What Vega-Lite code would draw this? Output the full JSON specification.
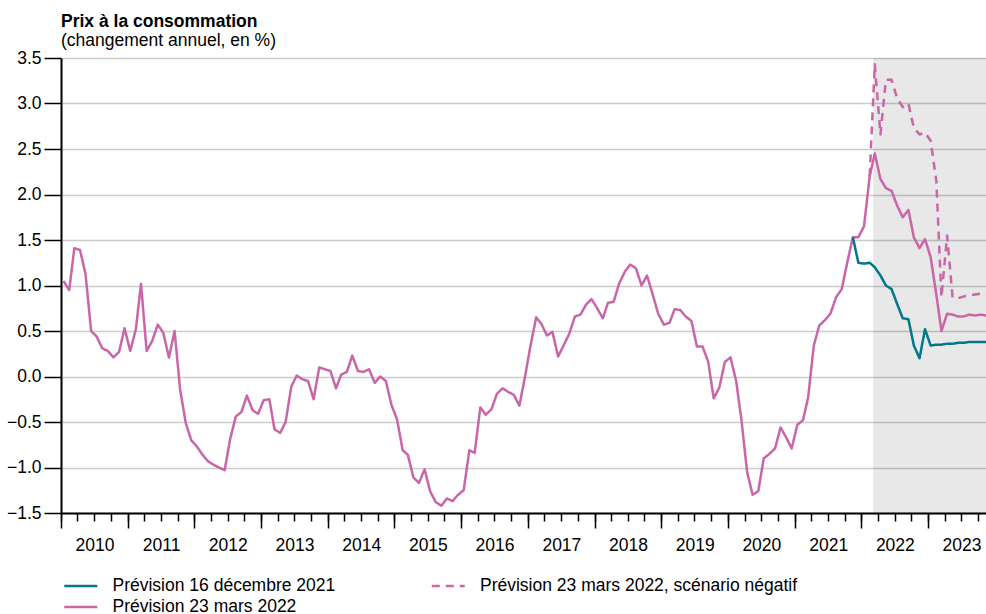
{
"$schema": "https://vega.github.io/schema/vega-lite/v6.json",
"width": 925, "height": 455,
"autosize": {"type": "none"},
"padding": {"left": 61, "top": 58, "right": 0, "bottom": 101},
"background": "white",
"config": {"font": "Liberation Sans", "view": {"stroke": null}},
"title": {"text": "Prix à la consommation", "subtitle": "(changement annuel, en %)", "anchor": "start", "frame": "group", "font": "Liberation Sans", "subtitleFont": "Liberation Sans", "fontSize": 17.5, "fontWeight": "bold", "subtitleFontSize": 17.5, "color": "#000", "subtitleColor": "#000", "subtitlePadding": 1, "offset": 0},
"datasets": {
"shade": [{"a": "2022-03-06", "b": "2023-12-31"}],
"cpi": [
{"d":"2010-01-15","s":"c","v":1.05},{"d":"2010-02-15","s":"c","v":0.95},{"d":"2010-03-15","s":"c","v":1.41},{"d":"2010-04-15","s":"c","v":1.39},{"d":"2010-05-15","s":"c","v":1.13},{"d":"2010-06-15","s":"c","v":0.50},{"d":"2010-07-15","s":"c","v":0.44},{"d":"2010-08-15","s":"c","v":0.31},{"d":"2010-09-15","s":"c","v":0.28},{"d":"2010-10-15","s":"c","v":0.21},{"d":"2010-11-15","s":"c","v":0.27},{"d":"2010-12-15","s":"c","v":0.53},
{"d":"2011-01-15","s":"c","v":0.28},{"d":"2011-02-15","s":"c","v":0.52},{"d":"2011-03-15","s":"c","v":1.02},{"d":"2011-04-15","s":"c","v":0.28},{"d":"2011-05-15","s":"c","v":0.39},{"d":"2011-06-15","s":"c","v":0.57},{"d":"2011-07-15","s":"c","v":0.48},{"d":"2011-08-15","s":"c","v":0.21},{"d":"2011-09-15","s":"c","v":0.50},{"d":"2011-10-15","s":"c","v":-0.14},{"d":"2011-11-15","s":"c","v":-0.51},{"d":"2011-12-15","s":"c","v":-0.70},
{"d":"2012-01-15","s":"c","v":-0.77},{"d":"2012-02-15","s":"c","v":-0.86},{"d":"2012-03-15","s":"c","v":-0.93},{"d":"2012-04-15","s":"c","v":-0.97},{"d":"2012-05-15","s":"c","v":-1.00},{"d":"2012-06-15","s":"c","v":-1.03},{"d":"2012-07-15","s":"c","v":-0.69},{"d":"2012-08-15","s":"c","v":-0.44},{"d":"2012-09-15","s":"c","v":-0.39},{"d":"2012-10-15","s":"c","v":-0.21},{"d":"2012-11-15","s":"c","v":-0.37},{"d":"2012-12-15","s":"c","v":-0.41},
{"d":"2013-01-15","s":"c","v":-0.26},{"d":"2013-02-15","s":"c","v":-0.25},{"d":"2013-03-15","s":"c","v":-0.58},{"d":"2013-04-15","s":"c","v":-0.62},{"d":"2013-05-15","s":"c","v":-0.50},{"d":"2013-06-15","s":"c","v":-0.11},{"d":"2013-07-15","s":"c","v":0.01},{"d":"2013-08-15","s":"c","v":-0.03},{"d":"2013-09-15","s":"c","v":-0.05},{"d":"2013-10-15","s":"c","v":-0.25},{"d":"2013-11-15","s":"c","v":0.10},{"d":"2013-12-15","s":"c","v":0.08},
{"d":"2014-01-15","s":"c","v":0.06},{"d":"2014-02-15","s":"c","v":-0.13},{"d":"2014-03-15","s":"c","v":0.02},{"d":"2014-04-15","s":"c","v":0.05},{"d":"2014-05-15","s":"c","v":0.23},{"d":"2014-06-15","s":"c","v":0.06},{"d":"2014-07-15","s":"c","v":0.05},{"d":"2014-08-15","s":"c","v":0.08},{"d":"2014-09-15","s":"c","v":-0.07},{"d":"2014-10-15","s":"c","v":0.00},{"d":"2014-11-15","s":"c","v":-0.05},{"d":"2014-12-15","s":"c","v":-0.31},
{"d":"2015-01-15","s":"c","v":-0.47},{"d":"2015-02-15","s":"c","v":-0.81},{"d":"2015-03-15","s":"c","v":-0.86},{"d":"2015-04-15","s":"c","v":-1.11},{"d":"2015-05-15","s":"c","v":-1.17},{"d":"2015-06-15","s":"c","v":-1.02},{"d":"2015-07-15","s":"c","v":-1.26},{"d":"2015-08-15","s":"c","v":-1.38},{"d":"2015-09-15","s":"c","v":-1.42},{"d":"2015-10-15","s":"c","v":-1.34},{"d":"2015-11-15","s":"c","v":-1.37},{"d":"2015-12-15","s":"c","v":-1.30},
{"d":"2016-01-15","s":"c","v":-1.25},{"d":"2016-02-15","s":"c","v":-0.81},{"d":"2016-03-15","s":"c","v":-0.84},{"d":"2016-04-15","s":"c","v":-0.34},{"d":"2016-05-15","s":"c","v":-0.42},{"d":"2016-06-15","s":"c","v":-0.36},{"d":"2016-07-15","s":"c","v":-0.19},{"d":"2016-08-15","s":"c","v":-0.13},{"d":"2016-09-15","s":"c","v":-0.17},{"d":"2016-10-15","s":"c","v":-0.20},{"d":"2016-11-15","s":"c","v":-0.32},{"d":"2016-12-15","s":"c","v":-0.01},
{"d":"2017-01-15","s":"c","v":0.34},{"d":"2017-02-15","s":"c","v":0.65},{"d":"2017-03-15","s":"c","v":0.58},{"d":"2017-04-15","s":"c","v":0.45},{"d":"2017-05-15","s":"c","v":0.49},{"d":"2017-06-15","s":"c","v":0.22},{"d":"2017-07-15","s":"c","v":0.34},{"d":"2017-08-15","s":"c","v":0.47},{"d":"2017-09-15","s":"c","v":0.66},{"d":"2017-10-15","s":"c","v":0.68},{"d":"2017-11-15","s":"c","v":0.79},{"d":"2017-12-15","s":"c","v":0.85},
{"d":"2018-01-15","s":"c","v":0.75},{"d":"2018-02-15","s":"c","v":0.64},{"d":"2018-03-15","s":"c","v":0.81},{"d":"2018-04-15","s":"c","v":0.82},{"d":"2018-05-15","s":"c","v":1.02},{"d":"2018-06-15","s":"c","v":1.15},{"d":"2018-07-15","s":"c","v":1.23},{"d":"2018-08-15","s":"c","v":1.19},{"d":"2018-09-15","s":"c","v":1.00},{"d":"2018-10-15","s":"c","v":1.11},{"d":"2018-11-15","s":"c","v":0.90},{"d":"2018-12-15","s":"c","v":0.69},
{"d":"2019-01-15","s":"c","v":0.57},{"d":"2019-02-15","s":"c","v":0.59},{"d":"2019-03-15","s":"c","v":0.74},{"d":"2019-04-15","s":"c","v":0.73},{"d":"2019-05-15","s":"c","v":0.66},{"d":"2019-06-15","s":"c","v":0.61},{"d":"2019-07-15","s":"c","v":0.33},{"d":"2019-08-15","s":"c","v":0.33},{"d":"2019-09-15","s":"c","v":0.16},{"d":"2019-10-15","s":"c","v":-0.24},{"d":"2019-11-15","s":"c","v":-0.12},{"d":"2019-12-15","s":"c","v":0.16},
{"d":"2020-01-15","s":"c","v":0.21},{"d":"2020-02-15","s":"c","v":-0.05},{"d":"2020-03-15","s":"c","v":-0.48},{"d":"2020-04-15","s":"c","v":-1.05},{"d":"2020-05-15","s":"c","v":-1.30},{"d":"2020-06-15","s":"c","v":-1.26},{"d":"2020-07-15","s":"c","v":-0.90},{"d":"2020-08-15","s":"c","v":-0.85},{"d":"2020-09-15","s":"c","v":-0.79},{"d":"2020-10-15","s":"c","v":-0.56},{"d":"2020-11-15","s":"c","v":-0.67},{"d":"2020-12-15","s":"c","v":-0.79},
{"d":"2021-01-15","s":"c","v":-0.53},{"d":"2021-02-15","s":"c","v":-0.48},{"d":"2021-03-15","s":"c","v":-0.23},{"d":"2021-04-15","s":"c","v":0.34},{"d":"2021-05-15","s":"c","v":0.56},{"d":"2021-06-15","s":"c","v":0.62},{"d":"2021-07-15","s":"c","v":0.69},{"d":"2021-08-15","s":"c","v":0.87},{"d":"2021-09-15","s":"c","v":0.96},{"d":"2021-10-15","s":"c","v":1.25},{"d":"2021-11-15","s":"c","v":1.53},{"d":"2021-12-15","s":"c","v":1.53},
{"d":"2022-01-15","s":"c","v":1.65},{"d":"2022-02-15","s":"c","v":2.20},{"d":"2022-03-15","s":"c","v":2.45},{"d":"2022-04-15","s":"c","v":2.17},{"d":"2022-05-15","s":"c","v":2.07},{"d":"2022-06-15","s":"c","v":2.04},{"d":"2022-07-15","s":"c","v":1.88},{"d":"2022-08-15","s":"c","v":1.75},{"d":"2022-09-15","s":"c","v":1.83},{"d":"2022-10-15","s":"c","v":1.53},{"d":"2022-11-15","s":"c","v":1.41},{"d":"2022-12-15","s":"c","v":1.51},
{"d":"2023-01-15","s":"c","v":1.31},{"d":"2023-02-15","s":"c","v":0.90},{"d":"2023-03-15","s":"c","v":0.50},{"d":"2023-04-15","s":"c","v":0.69},{"d":"2023-05-15","s":"c","v":0.68},{"d":"2023-06-15","s":"c","v":0.66},{"d":"2023-07-15","s":"c","v":0.66},{"d":"2023-08-15","s":"c","v":0.68},{"d":"2023-09-15","s":"c","v":0.67},{"d":"2023-10-15","s":"c","v":0.68},{"d":"2023-11-15","s":"c","v":0.67},
{"d":"2021-11-15","s":"a","v":1.53},{"d":"2021-12-15","s":"a","v":1.25},
{"d":"2022-01-15","s":"a","v":1.24},{"d":"2022-02-15","s":"a","v":1.25},{"d":"2022-03-15","s":"a","v":1.20},{"d":"2022-04-15","s":"a","v":1.11},{"d":"2022-05-15","s":"a","v":1.00},{"d":"2022-06-15","s":"a","v":0.96},{"d":"2022-07-15","s":"a","v":0.80},{"d":"2022-08-15","s":"a","v":0.64},{"d":"2022-09-15","s":"a","v":0.63},{"d":"2022-10-15","s":"a","v":0.34},{"d":"2022-11-15","s":"a","v":0.20},{"d":"2022-12-15","s":"a","v":0.52},
{"d":"2023-01-15","s":"a","v":0.34},{"d":"2023-02-15","s":"a","v":0.35},{"d":"2023-03-15","s":"a","v":0.35},{"d":"2023-04-15","s":"a","v":0.36},{"d":"2023-05-15","s":"a","v":0.36},{"d":"2023-06-15","s":"a","v":0.37},{"d":"2023-07-15","s":"a","v":0.37},{"d":"2023-08-15","s":"a","v":0.38},{"d":"2023-09-15","s":"a","v":0.38},{"d":"2023-10-15","s":"a","v":0.38},{"d":"2023-11-15","s":"a","v":0.38},
{"d":"2022-02-15","s":"b","v":2.20},{"d":"2022-03-15","s":"b","v":3.43},{"d":"2022-04-15","s":"b","v":2.66},{"d":"2022-05-15","s":"b","v":3.26},{"d":"2022-06-15","s":"b","v":3.26},{"d":"2022-07-15","s":"b","v":3.06},{"d":"2022-08-15","s":"b","v":2.96},{"d":"2022-09-15","s":"b","v":3.00},{"d":"2022-10-15","s":"b","v":2.73},{"d":"2022-11-15","s":"b","v":2.66},{"d":"2022-12-15","s":"b","v":2.68},
{"d":"2023-01-15","s":"b","v":2.59},{"d":"2023-02-15","s":"b","v":2.15},{"d":"2023-03-15","s":"b","v":0.87},{"d":"2023-04-15","s":"b","v":1.55},{"d":"2023-05-15","s":"b","v":0.87},{"d":"2023-06-15","s":"b","v":0.86},{"d":"2023-07-15","s":"b","v":0.88},{"d":"2023-08-15","s":"b","v":0.89},{"d":"2023-09-15","s":"b","v":0.90},{"d":"2023-10-15","s":"b","v":0.91},{"d":"2023-11-15","s":"b","v":0.91}
]},
"layer": [
{"data": {"name": "shade"},
 "mark": {"type": "rect", "fill": "#000000", "fillOpacity": 0.09, "clip": true},
 "encoding": {
  "x": {"field": "a", "type": "temporal",
        "scale": {"type": "utc", "domain": [{"year": 2010, "month": 1, "date": 1, "utc": true}, {"year": 2023, "month": 11, "date": 14, "utc": true}]},
        "axis": {"orient": "bottom", "title": null, "tickCount": {"interval": "year", "step": 1}, "tickSize": 15, "tickWidth": 1.5, "tickColor": "#000", "domain": true, "domainColor": "#000", "domainWidth": 2, "grid": false, "labels": true, "format": "%Y", "labelOffset": 33.4, "labelFlush": false, "labelOverlap": false, "labelBound": false, "labelFont": "Liberation Sans", "labelFontSize": 17.5, "labelColor": "#000", "labelBaseline": "alphabetic", "labelPadding": 22, "zindex": 1}},
  "x2": {"field": "b"}
 }},
{"data": {"name": "cpi"},
 "mark": {"type": "line", "strokeWidth": 2.5, "strokeJoin": "round", "clip": true},
 "encoding": {
  "x": {"field": "d", "type": "temporal",
        "axis": {"orient": "bottom", "title": null, "tickCount": {"interval": "month", "step": 3}, "tickSize": 8, "tickWidth": 1.5, "tickColor": "#000", "domain": false, "grid": false, "labels": false, "zindex": 1}},
  "y": {"field": "v", "type": "quantitative",
        "scale": {"domain": [-1.5, 3.5], "nice": false, "zero": false},
        "axis": {"title": null, "values": [-1.5, -1, -0.5, 0, 0.5, 1, 1.5, 2, 2.5, 3, 3.5], "format": ".1f", "tickSize": 17, "tickWidth": 1.5, "tickColor": "#000", "domain": true, "domainColor": "#000", "domainWidth": 2, "grid": true, "gridColor": "#cccccc", "gridWidth": 1.5, "labelFont": "Liberation Sans", "labelFontSize": 17.5, "labelColor": "#000", "labelPadding": 3}},
  "color": {"field": "s", "type": "nominal",
        "scale": {"domain": ["a", "c", "b"], "range": ["#00788a", "#c966a8", "#c966a8"]},
        "legend": {"title": null, "labelExpr": "datum.value == 'a' ? 'Prévision 16 décembre 2021' : datum.value == 'b' ? 'Prévision 23 mars 2022, scénario négatif' : 'Prévision 23 mars 2022'", "orient": "none", "legendX": 10.25, "legendY": 518.5, "columns": 2, "columnPadding": 90.5, "rowPadding": 3, "padding": 0, "symbolType": "M-2,0H2", "symbolSize": 272.25, "symbolStrokeWidth": 2.5, "labelFont": "Liberation Sans", "labelFontSize": 17.5, "labelColor": "#000", "labelOffset": 22.25, "labelLimit": 500}},
  "strokeDash": {"field": "s", "type": "nominal",
        "scale": {"domain": ["a", "c", "b"], "range": [[1, 0], [1, 0], [8, 6]]},
        "legend": {"title": null, "labelExpr": "datum.value == 'a' ? 'Prévision 16 décembre 2021' : datum.value == 'b' ? 'Prévision 23 mars 2022, scénario négatif' : 'Prévision 23 mars 2022'", "orient": "none", "legendX": 10.25, "legendY": 518.5, "columns": 2, "columnPadding": 90.5, "rowPadding": 3, "padding": 0, "symbolType": "M-2,0H2", "symbolSize": 272.25, "symbolStrokeWidth": 2.5, "labelFont": "Liberation Sans", "labelFontSize": 17.5, "labelColor": "#000", "labelOffset": 22.25, "labelLimit": 500}}
 }}
],
"resolve": {"axis": {"x": "independent"}}
}
